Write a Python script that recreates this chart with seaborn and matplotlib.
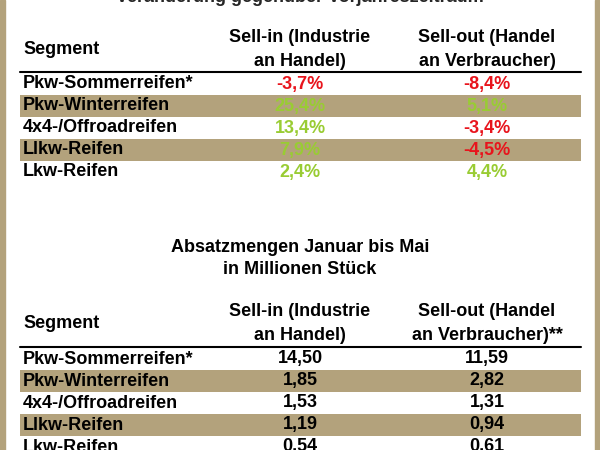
import matplotlib
matplotlib.use("Agg")
import matplotlib.pyplot as plt
import seaborn as sns

sns.set_theme(style="white")

segments = ["Pkw-Sommerreifen*", "Pkw-Winterreifen", "4x4-/Offroadreifen", "Llkw-Reifen", "Lkw-Reifen"]
change_sell_in = [-3.7, 25.4, 13.4, 7.9, 2.4]
change_sell_out = [-8.4, 5.1, -3.4, -4.5, 4.4]
units_sell_in = [14.50, 1.85, 1.53, 1.19, 0.54]
units_sell_out = [11.59, 2.82, 1.31, 0.94, 0.61]

TAN = "#b3a27c"
RED = "#e8141c"
GREEN = "#99cc33"
FONT = "Liberation Sans"
SIZE = 13

fig = plt.figure(figsize=(6, 4.5), dpi=100)
ax = fig.add_axes([0, 0, 1, 1])
ax.set_xlim(0, 600)
ax.set_ylim(450, 0)
ax.axis("off")

ax.axvspan(0, 5, color=TAN)
ax.axvspan(595, 600, color=TAN)

def fmt(v, dec, pct):
    s = f"{v:.{dec}f}".replace(".", ",")
    return s + "%" if pct else s

def txt(x, y, s, ha="left", color="black", size=SIZE):
    ax.text(x, y, s, ha=ha, va="center", color=color, fontsize=size,
            fontweight="bold", family=FONT)

def table(y_head, y_line, y_rows, col1, col2, pct, star2=""):
    txt(23, y_head + 12, "Segment")
    txt(300, y_head, "Sell-in (Industrie", ha="center")
    txt(300, y_head + 23, "an Handel)", ha="center")
    txt(487, y_head, "Sell-out (Handel", ha="center")
    txt(487, y_head + 23, "an Verbraucher)" + star2, ha="center")
    ax.plot([20, 581], [y_line, y_line], color="black", lw=1.5)
    for i, seg in enumerate(segments):
        y = y_rows + i * 22
        if i % 2 == 1:
            ax.fill_between([20, 581], y - 11, y + 11, color=TAN, lw=0)
        txt(23, y, seg)
        for x, v in ((300, col1[i]), (487, col2[i])):
            c = "black"
            if pct:
                c = RED if v < 0 else GREEN
            txt(x, y, fmt(v, 1 if pct else 2, pct), ha="center", color=c)

ax.text(300, -3, "Veränderung gegenüber Vorjahreszeitraum", ha="center", va="center",
        fontsize=SIZE, fontweight="bold", family=FONT, clip_on=True)
table(38, 72, 84, change_sell_in, change_sell_out, True)
txt(300, 247, "Absatzmengen Januar bis Mai", ha="center")
txt(300, 270, "in Millionen Stück", ha="center")
table(312, 347, 359, units_sell_in, units_sell_out, False, "**")

fig.savefig("out.png", dpi=100)
